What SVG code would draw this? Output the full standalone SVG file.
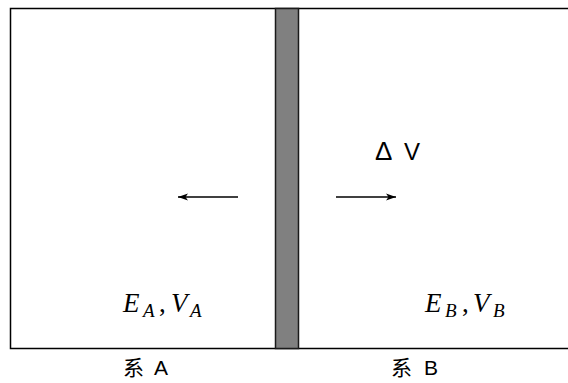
<svg xmlns="http://www.w3.org/2000/svg" width="568" height="383" viewBox="0 0 568 383">
<defs>
<style>
.frame{fill:none;stroke:#000;stroke-width:1.5}
.wall{fill:#808080;stroke:#1a1a1a;stroke-width:1.5}
.arr{stroke:#000;stroke-width:1.3;fill:none}
.math{font-family:"Liberation Serif","DejaVu Serif",serif;font-style:italic;font-size:27px;fill:#000}
.sub{font-size:19px}
.rm{font-style:normal}
.lbl{font-family:"Liberation Sans","Noto Sans CJK SC",sans-serif;font-size:21px;fill:#000}
.dv{font-family:"Liberation Sans","DejaVu Sans",sans-serif;font-size:24px;fill:#000}
</style>
<marker id="ah" viewBox="0 0 10 10" refX="10" refY="5" markerWidth="10" markerHeight="10" markerUnits="userSpaceOnUse" orient="auto">
<path d="M0,1.5 L10,5 L0,8.5 L2.5,5 Z" fill="#000"/>
</marker>
</defs>
<g id="container">
<path class="frame" d="M568,8.5 L10.5,8.5 L10.5,348.5 L568,348.5"/>
</g>
<g id="wall">
<rect class="wall" x="275.5" y="8.5" width="23" height="340"/>
</g>
<g id="connectors">
<line class="arr" x1="238" y1="197" x2="178" y2="197" marker-end="url(#ah)"/>
<line class="arr" x1="336" y1="197" x2="396" y2="197" marker-end="url(#ah)"/>
</g>
<g id="dV">
<text class="dv" y="160"><tspan x="375" font-size="26">Δ</tspan><tspan x="404">V</tspan></text>
</g>
<g id="sysA">
<text class="math" y="312"><tspan x="123">E</tspan><tspan class="sub" x="143" y="317">A</tspan><tspan class="rm" x="159" y="312">,</tspan><tspan x="171">V</tspan><tspan class="sub" x="190" y="317">A</tspan></text>
<text class="lbl" y="375"><tspan x="123">系</tspan><tspan x="154">A</tspan></text>
</g>
<g id="sysB">
<text class="math" y="312"><tspan x="425">E</tspan><tspan class="sub" x="445" y="317">B</tspan><tspan class="rm" x="462" y="312">,</tspan><tspan x="473">V</tspan><tspan class="sub" x="493" y="317">B</tspan></text>
<text class="lbl" y="375"><tspan x="391">系</tspan><tspan x="424">B</tspan></text>
</g>
</svg>
